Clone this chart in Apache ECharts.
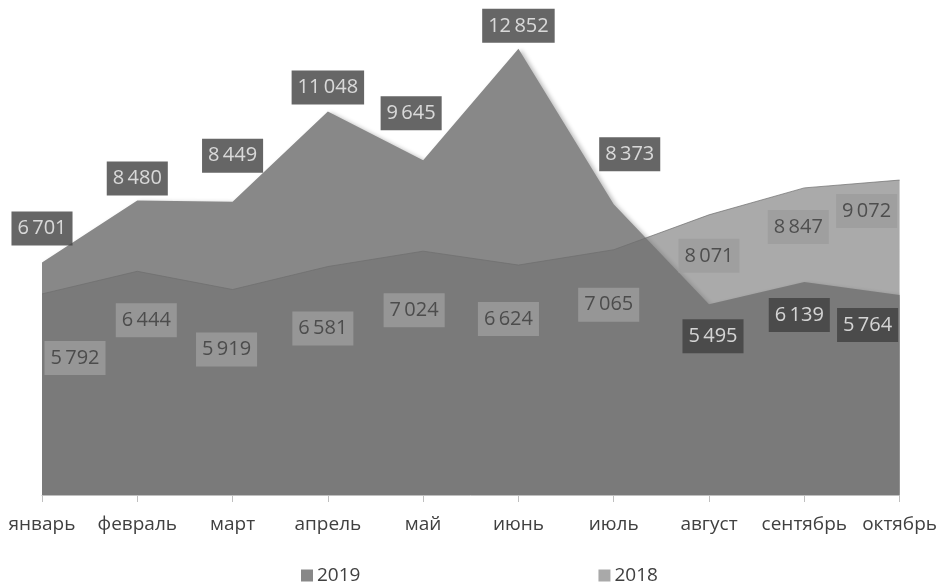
<!DOCTYPE html>
<html>
<head>
<meta charset="utf-8">
<script src="https://cdn.jsdelivr.net/npm/echarts@6/dist/echarts.min.js"></script>
<style>
	html, body { margin: 0; padding: 0; background: #fff; }
	#chart { width: 940px; height: 585px; }
</style>
</head>
<body>
<div id="chart"></div>
<script>
const months = ["январь", "февраль", "март", "апрель", "май", "июнь", "июль", "август", "сентябрь", "октябрь"];
const values2019 = [6701, 8480, 8449, 11048, 9645, 12852, 8373, 5495, 6139, 5764];
const values2018 = [5792, 6444, 5919, 6581, 7024, 6624, 7065, 8071, 8847, 9072];

// label shifts (px) from the data point, the way they sit in the picture
const shift2019 = [[0, -34], [0, -22], [0, -46], [0, -24], [-12, -47], [0, -23], [16, -50], [4, 32], [-5, 33], [-32, 30]];
const shift2018 = [[33, 64], [9, 49], [-6, 60], [-5, 62], [-9, 59], [-10, 54], [-5, 55], [0, 41], [-6, 39], [-33, 31]];

const font = "'Open Sans', 'Noto Sans', sans-serif";

function fmt(v) {
	return String(v).replace(/\B(?=(\d{3})+(?!\d))/g, "\u2009");
}

function labelPoints(values, shifts, style) {
	return values.map((v, i) => ({
		value: v,
		label: Object.assign({}, style, { offset: shifts[i] })
	}));
}

const darkLabel = {
	show: true,
	position: "inside",
	backgroundColor: "#404040",
	color: "#f6f6f6",
	fontFamily: font,
	fontSize: 20,
	lineHeight: 20,
	padding: [7, 6, 7, 6],
	formatter: p => fmt(p.value)
};
const lightLabel = Object.assign({}, darkLabel, {
	backgroundColor: "#9e9e9e",
	color: "#3a3a3a"
});

let myChart = echarts.init(document.getElementById("chart"));
let option = {
	animation: false,
	grid: {
		top: 9,
		left: 42,
		right: 37,
		bottom: 90
	},
	legend: {
		data: [
			{ name: "2019", itemStyle: { color: "#888888" } },
			{ name: "2018", itemStyle: { color: "#a9a9a9" } }
		],
		left: 301,
		top: 566,
		icon: "rect",
		itemWidth: 12,
		itemHeight: 12,
		itemGap: 238,
		padding: 0,
		textStyle: {
			fontFamily: font,
			fontSize: 19,
			color: "#404040",
			padding: [0, 0, 0, -1]
		}
	},
	xAxis: {
		type: "category",
		boundaryGap: false,
		data: months,
		axisLine: { lineStyle: { color: "#bfbfbf", width: 1 } },
		axisTick: { show: true, length: 7, lineStyle: { color: "#bfbfbf" } },
		axisLabel: {
			interval: 0,
			margin: 20,
			color: "#404040",
			fontFamily: font,
			fontSize: 19
		}
	},
	yAxis: {
		type: "value",
		min: 0,
		max: 14000,
		show: false
	},
	series: [
		{
			name: "2019",
			type: "line",
			data: values2019,
			symbol: "none",
			z: 2,
			lineStyle: { width: 0 },
			itemStyle: { color: "#888888" },
			areaStyle: {
				color: "#888888",
				opacity: 1,
				shadowBlur: 4,
				shadowOffsetX: 3,
				shadowOffsetY: 1,
				shadowColor: "rgba(0,0,0,0.25)"
			}
		},
		{
			name: "2018",
			type: "line",
			data: values2018,
			symbol: "none",
			z: 3,
			lineStyle: { width: 1, color: "rgba(110,110,110,0.7)" },
			itemStyle: { color: "#a9a9a9" },
			areaStyle: {
				color: "rgba(113,113,113,0.6)",
				opacity: 1
			}
		},
		{
			name: "labels 2019",
			type: "scatter",
			silent: true,
			z: 10,
			symbolSize: 1,
			itemStyle: { color: "rgba(0,0,0,0)" },
			data: labelPoints(values2019, shift2019, darkLabel)
		},
		{
			name: "labels 2018",
			type: "scatter",
			silent: true,
			z: 10,
			symbolSize: 1,
			itemStyle: { color: "rgba(0,0,0,0)" },
			data: labelPoints(values2018, shift2018, lightLabel)
		}
	]
};
myChart.setOption(option);
</script>
</body>
</html>
